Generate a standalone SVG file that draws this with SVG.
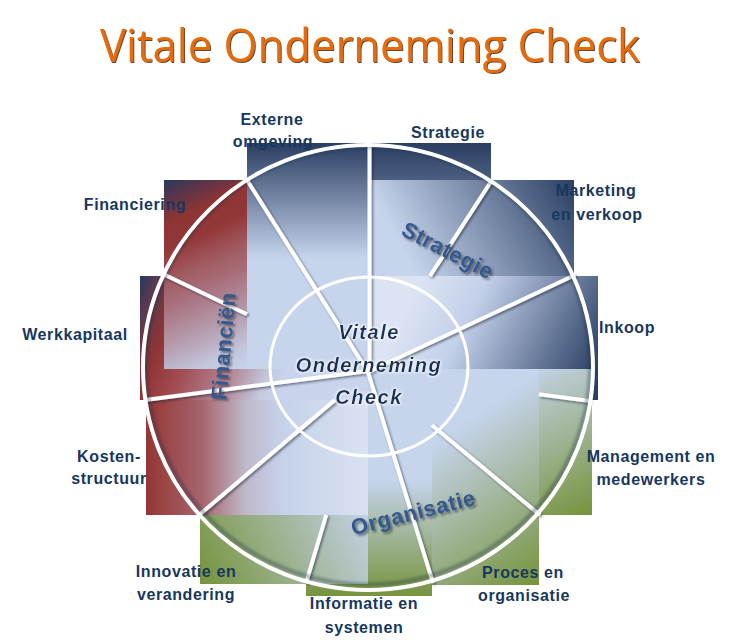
<svg xmlns="http://www.w3.org/2000/svg" width="736" height="640" viewBox="0 0 736 640">
<defs>
  <linearGradient id="gStrat" gradientUnits="userSpaceOnUse" x1="0" y1="143" x2="0" y2="310"><stop offset="0" stop-color="#2a3e62"/><stop offset="1" stop-color="#c6d4ec"/></linearGradient>
  <linearGradient id="gMkt" gradientUnits="userSpaceOnUse" x1="580" y1="190" x2="420" y2="280"><stop offset="0" stop-color="#2a3f63"/><stop offset="1" stop-color="#c6d4ec"/></linearGradient>
  <linearGradient id="gInk" gradientUnits="userSpaceOnUse" x1="598" y1="369" x2="420" y2="280"><stop offset="0" stop-color="#2a3f63"/><stop offset="0.7" stop-color="#c3d0ea"/><stop offset="1" stop-color="#dce4f3"/></linearGradient>
  <linearGradient id="gMgmt" gradientUnits="userSpaceOnUse" x1="592" y1="515" x2="520" y2="370"><stop offset="0" stop-color="#76933c"/><stop offset="1" stop-color="#c6d4ec"/></linearGradient>
  <linearGradient id="gProc" gradientUnits="userSpaceOnUse" x1="539" y1="585" x2="440" y2="440"><stop offset="0" stop-color="#76933c"/><stop offset="1" stop-color="#c6d4ec"/></linearGradient>
  <linearGradient id="gInfo" gradientUnits="userSpaceOnUse" x1="0" y1="597" x2="0" y2="480"><stop offset="0" stop-color="#76933c"/><stop offset="1" stop-color="#c6d4ec"/></linearGradient>
  <linearGradient id="gInnov" gradientUnits="userSpaceOnUse" x1="200" y1="585" x2="370" y2="500"><stop offset="0" stop-color="#76933c"/><stop offset="1" stop-color="#c6d4ec"/></linearGradient>
  <linearGradient id="gKost" gradientUnits="userSpaceOnUse" x1="146" y1="0" x2="368" y2="0"><stop offset="0" stop-color="#943634"/><stop offset="0.25" stop-color="#a6646c"/><stop offset="0.45" stop-color="#bfb9cb"/><stop offset="0.62" stop-color="#c5d2ea"/><stop offset="1" stop-color="#dae2f1"/></linearGradient>
  <linearGradient id="gWerk" gradientUnits="userSpaceOnUse" x1="140" y1="276" x2="300" y2="340"><stop offset="0" stop-color="#26395e"/><stop offset="0.1" stop-color="#5b3950"/><stop offset="0.25" stop-color="#8f3535"/><stop offset="0.42" stop-color="#a14a50"/><stop offset="0.72" stop-color="#b48c9c"/><stop offset="0.9" stop-color="#c3c8de"/><stop offset="1" stop-color="#c9d4ec"/></linearGradient>
  <linearGradient id="gFin" gradientUnits="userSpaceOnUse" x1="164" y1="180" x2="250" y2="365"><stop offset="0" stop-color="#283a5e"/><stop offset="0.1" stop-color="#5e3448"/><stop offset="0.2" stop-color="#8f3434"/><stop offset="0.32" stop-color="#933838"/><stop offset="0.45" stop-color="#a05a60"/><stop offset="0.57" stop-color="#a8707c"/><stop offset="0.8" stop-color="#b9a8bb"/><stop offset="0.9" stop-color="#c2c4da"/><stop offset="1" stop-color="#c6d2ea"/></linearGradient>
  <linearGradient id="gExt" gradientUnits="userSpaceOnUse" x1="0" y1="143" x2="0" y2="258"><stop offset="0" stop-color="#2a3e62"/><stop offset="1" stop-color="#c6d4ec"/></linearGradient>
  <filter id="lineShadow" filterUnits="userSpaceOnUse" x="0" y="0" width="736" height="640">
    <feDropShadow dx="1.5" dy="1.5" stdDeviation="1.2" flood-color="#0d1b33" flood-opacity="0.55"/>
  </filter>
  <filter id="rimShadow" filterUnits="userSpaceOnUse" x="0" y="0" width="736" height="640">
    <feGaussianBlur stdDeviation="1.8"/>
  </filter>
  <filter id="textShadow" filterUnits="userSpaceOnUse" x="0" y="0" width="736" height="640">
    <feDropShadow dx="2" dy="2" stdDeviation="1.3" flood-color="#2b2b2b" flood-opacity="0.55"/>
  </filter>
  <filter id="titleShadow" filterUnits="userSpaceOnUse" x="0" y="0" width="736" height="640">
    <feDropShadow dx="1" dy="1" stdDeviation="0.4" flood-color="#4a2508" flood-opacity="0.85"/>
  </filter>
  <filter id="glow" filterUnits="userSpaceOnUse" x="0" y="0" width="736" height="640">
    <feMorphology in="SourceAlpha" operator="dilate" radius="1" result="d"/>
    <feGaussianBlur in="d" stdDeviation="1" result="b"/>
    <feFlood flood-color="#ffffff" flood-opacity="0.7"/>
    <feComposite in2="b" operator="in" result="g"/>
    <feMerge><feMergeNode in="g"/><feMergeNode in="SourceGraphic"/></feMerge>
  </filter>
</defs>
<style>
  .lbl{font-family:"Liberation Sans",Arial,sans-serif;font-weight:bold;font-size:16px;fill:#17375e;letter-spacing:0.6px;text-anchor:middle}
  .spoke{stroke:#ffffff;stroke-width:4;fill:none;stroke-linecap:butt}
  .sec{font-family:"Liberation Sans",Arial,sans-serif;font-weight:bold;font-size:22px;fill:#34598f;letter-spacing:0.6px;text-anchor:middle}
  .ctr{font-family:"Liberation Sans",Arial,sans-serif;font-weight:bold;font-style:italic;font-size:20px;fill:#14305a;letter-spacing:1.5px;text-anchor:middle}
  .title{font-family:"Open Sans","Liberation Sans",sans-serif;font-size:46px;fill:#e46c0a;text-anchor:middle}
</style>
<rect width="736" height="640" fill="#ffffff"/>
<g id="title">
  <text class="title" x="370" y="62" textLength="540" lengthAdjust="spacingAndGlyphs" filter="url(#titleShadow)">Vitale Onderneming Check</text>
</g>

<g id="seg-strategie">
  <rect x="371" y="143" width="120" height="226" fill="url(#gStrat)"/>
  <text class="lbl" x="448" y="138">Strategie</text>
</g>
<g id="seg-marketing">
  <rect x="371" y="180" width="203" height="189" fill="url(#gMkt)"/>
  <text class="lbl" x="596" y="196">Marketing</text>
  <text class="lbl" x="597" y="220">en verkoop</text>
</g>
<g id="seg-inkoop">
  <rect x="368" y="276" width="230" height="124" fill="url(#gInk)"/>
  <text class="lbl" x="599" y="333" style="text-anchor:start">Inkoop</text>
</g>
<g id="seg-management">
  <rect x="368" y="369" width="224" height="146" fill="url(#gMgmt)"/>
  <text class="lbl" x="651" y="462">Management en</text>
  <text class="lbl" x="651" y="485">medewerkers</text>
</g>
<g id="seg-proces">
  <rect x="368" y="369" width="171" height="216" fill="url(#gProc)"/>
  <text class="lbl" x="523" y="578">Proces en</text>
  <text class="lbl" x="524" y="601">organisatie</text>
</g>
<g id="seg-informatie">
  <rect x="306" y="369" width="126" height="227" fill="url(#gInfo)"/>
  <text class="lbl" x="364" y="609">Informatie en</text>
  <text class="lbl" x="364" y="633">systemen</text>
</g>
<g id="seg-innovatie">
  <rect x="200" y="515" width="168" height="69" fill="url(#gInnov)"/>
  <text class="lbl" x="186" y="577">Innovatie en</text>
  <text class="lbl" x="186" y="600">verandering</text>
</g>
<g id="seg-kostenstructuur">
  <rect x="146" y="400" width="222" height="115" fill="url(#gKost)"/>
  <text class="lbl" x="109" y="462">Kosten-</text>
  <text class="lbl" x="109" y="484">structuur</text>
</g>
<g id="seg-werkkapitaal">
  <rect x="140" y="276" width="228" height="124" fill="url(#gWerk)"/>
  <text class="lbl" x="75" y="340">Werkkapitaal</text>
</g>
<g id="seg-financiering">
  <rect x="164" y="180" width="204" height="189" fill="url(#gFin)"/>
  <text class="lbl" x="135" y="210">Financiering</text>
</g>
<g id="seg-externe">
  <rect x="247" y="143" width="121" height="226" fill="url(#gExt)"/>
  <text class="lbl" x="272" y="125">Externe</text>
  <text class="lbl" x="273" y="147">omgeving</text>
</g>

<g id="connectors" filter="url(#lineShadow)">
  <line class="spoke" x1="369.5" y1="145" x2="369.5" y2="372"/>
  <line class="spoke" x1="247" y1="180" x2="368" y2="372"/>
  <line class="spoke" x1="163" y1="274" x2="247" y2="314.2"/>
  <line class="spoke" x1="145" y1="400" x2="368" y2="371"/>
  <line class="spoke" x1="199" y1="515" x2="334.9" y2="400"/>
  <line class="spoke" x1="306" y1="583" x2="326.2" y2="515"/>
  <line class="spoke" x1="433" y1="583" x2="368" y2="372"/>
  <line class="spoke" x1="540" y1="515" x2="432" y2="425.2"/>
  <line class="spoke" x1="590" y1="401" x2="539" y2="394.3"/>
  <line class="spoke" x1="575" y1="275" x2="368" y2="372"/>
  <line class="spoke" x1="492" y1="180" x2="430" y2="276"/>
</g>

<g id="wheel">
  <ellipse cx="368" cy="365.5" rx="222" ry="219" fill="none" stroke="#1b2a45" stroke-opacity="0.45" stroke-width="3" filter="url(#rimShadow)"/>
  <ellipse cx="368" cy="367.5" rx="225" ry="222.5" fill="none" stroke="#ffffff" stroke-width="4"/>
  <ellipse cx="369" cy="366.5" rx="99" ry="89.5" fill="none" stroke="#ffffff" stroke-width="3"/>
</g>

<g id="group-strategie" filter="url(#textShadow)">
  <text class="sec" transform="translate(448,250) rotate(27)" y="8">Strategie</text>
</g>
<g id="group-organisatie" filter="url(#textShadow)">
  <text class="sec" transform="translate(413,512) rotate(-14)" y="8">Organisatie</text>
</g>
<g id="group-financien" filter="url(#textShadow)">
  <text class="sec" transform="translate(223,346) rotate(-85)" y="8">Financiën</text>
</g>

<g id="center" filter="url(#glow)">
  <text class="ctr" x="369" y="339">Vitale</text>
  <text class="ctr" x="369" y="372">Onderneming</text>
  <text class="ctr" x="369" y="404">Check</text>
</g>
</svg>
